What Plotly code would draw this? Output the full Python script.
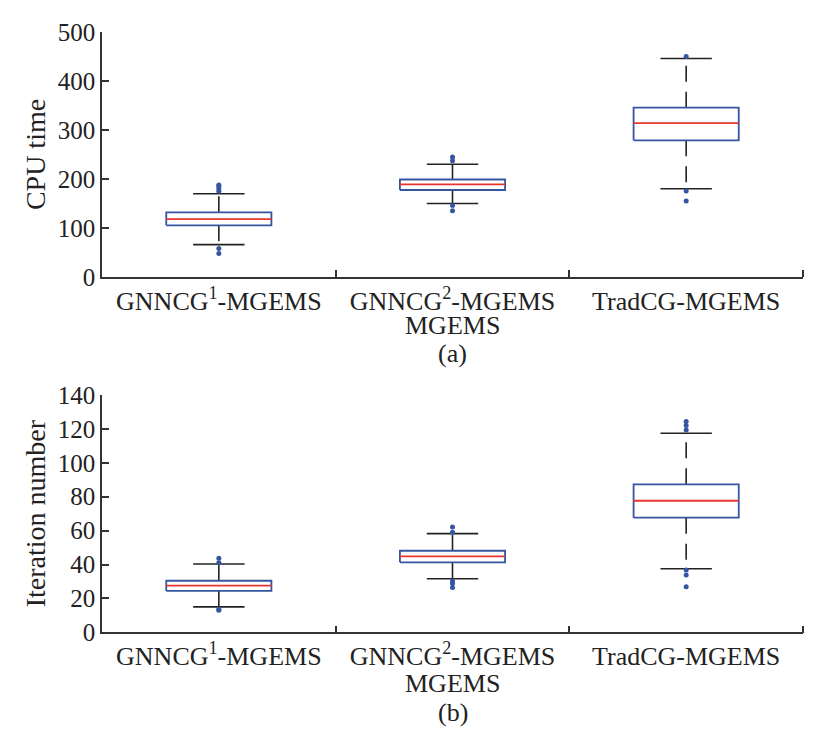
import plotly.graph_objects as go
from plotly.subplots import make_subplots

categories = ["GNNCG<sup>1</sup>-MGEMS", "GNNCG<sup>2</sup>-MGEMS", "TradCG-MGEMS"]
second_line = "MGEMS"  # wrapped continuation of the 2nd category label

# Panel (a): CPU time
cpu_q1 = [105.5, 177.5, 279]
cpu_med = [118, 189, 314]
cpu_q3 = [132, 199, 345.6]
cpu_lo = [66, 150, 180]
cpu_hi = [170, 230, 446]
cpu_out = [[175, 180, 185, 188, 58, 48], [237, 245, 146, 135], [450, 175.5, 155]]

# Panel (b): Iteration number
it_q1 = [24.4, 41.3, 67.6]
it_med = [27.5, 44.8, 77.6]
it_q3 = [30.4, 48.1, 87.3]
it_lo = [15, 31.6, 37.5]
it_hi = [40.3, 58.2, 117.4]
it_out = [[41, 43.7, 13.6, 13], [59, 62.1, 30.3, 28.8, 26.5], [119.4, 122, 124.3, 36.7, 33.8, 26.9]]

BLUE = "#34559f"
RED = "#e8352e"
BLACK = "#222222"
FONT = "Liberation Serif"
BOX_HW = 0.225
CAP_HW = 0.11

fig = make_subplots(rows=2, cols=1)

def add_panel(row, q1, med, q3, lo, hi, outs):
    xs = [1, 2, 3]
    for i, x in enumerate(xs):
        fig.add_trace(go.Scatter(x=[x, x], y=[q3[i], hi[i]], mode="lines",
                                 line=dict(color=BLACK, width=1.6, dash="16px,10px"),
                                 showlegend=False, hoverinfo="skip"), row=row, col=1)
        fig.add_trace(go.Scatter(x=[x, x], y=[q1[i], lo[i]], mode="lines",
                                 line=dict(color=BLACK, width=1.6, dash="16px,10px"),
                                 showlegend=False, hoverinfo="skip"), row=row, col=1)
        fig.add_trace(go.Scatter(x=[x - CAP_HW, x + CAP_HW, None, x - CAP_HW, x + CAP_HW],
                                 y=[hi[i], hi[i], None, lo[i], lo[i]], mode="lines",
                                 line=dict(color=BLACK, width=1.6),
                                 showlegend=False, hoverinfo="skip"), row=row, col=1)
        fig.add_trace(go.Scatter(x=[x - BOX_HW, x + BOX_HW, x + BOX_HW, x - BOX_HW, x - BOX_HW],
                                 y=[q1[i], q1[i], q3[i], q3[i], q1[i]], mode="lines",
                                 line=dict(color=BLUE, width=1.8),
                                 showlegend=False, hoverinfo="skip"), row=row, col=1)
        fig.add_trace(go.Scatter(x=[x - BOX_HW, x + BOX_HW], y=[med[i], med[i]], mode="lines",
                                 line=dict(color=RED, width=1.8),
                                 showlegend=False, hoverinfo="skip"), row=row, col=1)
        fig.add_trace(go.Scatter(x=[x] * len(outs[i]), y=outs[i], mode="markers",
                                 marker=dict(color=BLUE, size=5),
                                 showlegend=False, hoverinfo="skip"), row=row, col=1)

add_panel(1, cpu_q1, cpu_med, cpu_q3, cpu_lo, cpu_hi, cpu_out)
add_panel(2, it_q1, it_med, it_q3, it_lo, it_hi, it_out)

H = 735.0
xaxis_common = dict(
    range=[0.5, 3.5], tickmode="array", tickvals=[1, 2, 3], ticktext=categories,
    ticks="", showline=True, linecolor="#333333", linewidth=1.5, showgrid=False,
    zeroline=False, automargin=False,
    tickfont=dict(family=FONT, size=26, color="#222222"),
    minor=dict(tickmode="array", tickvals=[1.5, 2.5, 3.5], ticks="inside", ticklen=7,
               tickcolor="#333333", tickwidth=1.5, showgrid=False),
    domain=[102 / 836, 803 / 836],
)
yaxis_common = dict(
    showline=True, linecolor="#333333", linewidth=1.5, showgrid=False, zeroline=False,
    automargin=False, ticks="inside", ticklen=7, tickcolor="#333333", tickwidth=1.5,
    tickfont=dict(family=FONT, size=25, color="#222222"),
    title_font=dict(family=FONT, size=28, color="#222222"), title_standoff=4,
)

txt = dict(family=FONT, size=26, color="#222222")
fig.update_layout(
    width=836, height=735, margin=dict(l=0, r=0, t=0, b=0, autoexpand=False),
    paper_bgcolor="white", plot_bgcolor="white", showlegend=False,
    xaxis=dict(**xaxis_common),
    xaxis2=dict(**xaxis_common),
    yaxis=dict(**yaxis_common, range=[0, 500], dtick=100, title_text="CPU time",
               domain=[1 - 277 / H, 1 - 32 / H]),
    yaxis2=dict(**yaxis_common, range=[0, 140], dtick=20, title_text="Iteration number",
                domain=[1 - 632.3 / H, 1 - 395 / H]),
    annotations=[
        dict(text=second_line, x=2, xref="x", y=1 - 325 / H, yref="paper", yanchor="middle",
             showarrow=False, font=txt),
        dict(text=second_line, x=2, xref="x2", y=1 - 683 / H, yref="paper", yanchor="middle",
             showarrow=False, font=txt),
        dict(text="(a)", x=2, xref="x", y=1 - 353 / H, yref="paper", yanchor="middle",
             showarrow=False, font=txt),
        dict(text="(b)", x=2, xref="x2", y=1 - 712 / H, yref="paper", yanchor="middle",
             showarrow=False, font=txt),
    ],
)

fig.write_html("out.html")
